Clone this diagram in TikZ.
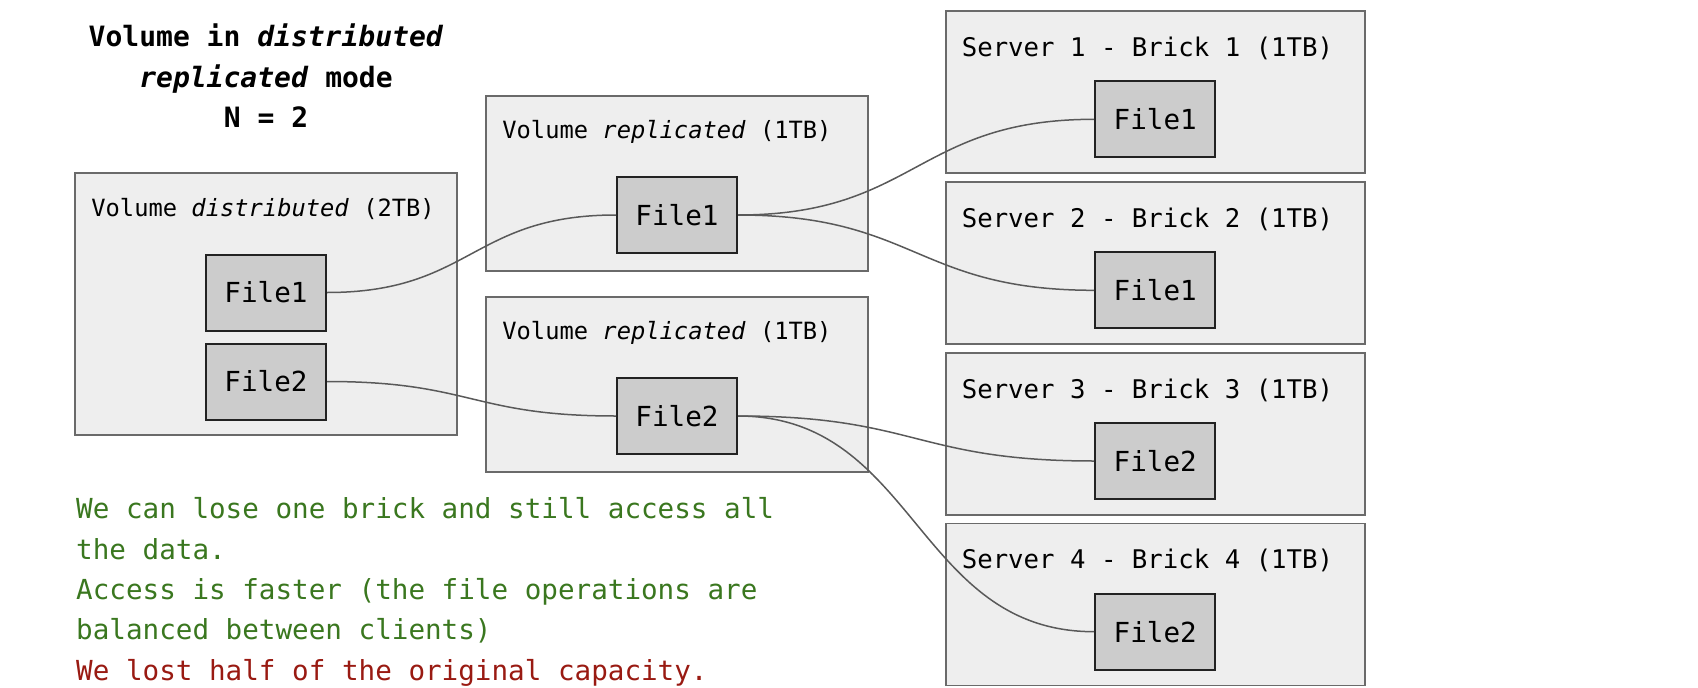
\documentclass[tikz,border=0pt]{standalone}
\usepackage{fontspec}
\setmonofont{DejaVu Sans Mono}
\usetikzlibrary{calc}
\definecolor{boxfill}{HTML}{EEEEEE}
\definecolor{boxline}{HTML}{6A6A6A}
\definecolor{filefill}{HTML}{CCCCCC}
\definecolor{fileline}{HTML}{222222}
\definecolor{connc}{HTML}{595959}
\definecolor{goodc}{HTML}{3A771F}
\definecolor{badc}{HTML}{991A12}
\newcommand{\myconn}[3]{%
  \path ($(#1.east)!0.5!(#2.west)$) coordinate (#3);
  \draw[conn] (#1.east) .. controls (#3 |- #1.east) and (#3 |- #2.west) .. (#2.west);}
\begin{document}
\begin{tikzpicture}[x=1pt,y=-1pt,
  outer/.style={draw=boxline, fill=boxfill, line width=1.6pt, rectangle, inner sep=0pt},
  distbox/.style={outer, minimum width=382, minimum height=262},
  repbox/.style={outer, minimum width=382, minimum height=175},
  srvbox/.style={outer, minimum width=419, minimum height=162},
  filebox/.style={draw=fileline, fill=filefill, line width=2pt, rectangle, inner sep=0pt,
    minimum width=120, minimum height=76, font=\ttfamily\fontsize{27.6}{32}\selectfont},
  lab/.style={anchor=base west, inner sep=0pt, font=\ttfamily\fontsize{23.75}{28}\selectfont},
  srvlab/.style={anchor=base west, inner sep=0pt, font=\ttfamily\fontsize{25.7}{30}\selectfont},
  conn/.style={draw=connc, line width=1.5pt},
  note/.style={inner sep=0pt, align=left, font=\ttfamily\fontsize{27.6}{40.3}\selectfont}
]
\useasboundingbox (0,0) rectangle (1698,688);

% title
\node[inner sep=0pt, align=center, anchor=base, font=\ttfamily\bfseries\fontsize{28}{40.5}\selectfont]
  (title) at (266,127.7) {Volume in \textit{distributed}\\\textit{replicated} mode\\N = 2};

% outer boxes
\node[distbox] (dist) at (266,304) {};
\node[repbox] (rep1) at (677,183.5) {};
\node[repbox] (rep2) at (677,384.2) {};
\node[srvbox] (s1) at (1155.4,92.2) {};
\node[srvbox] (s2) at (1155.4,263) {};
\node[srvbox] (s3) at (1155.4,434) {};
\node[srvbox] (s4) at (1155.4,604.5) {};

% box labels
\node[lab] (ldist) at ([shift={(17,44.3)}]dist.north west) {Volume \textit{distributed} (2TB)};
\node[lab] (lrep1) at ([shift={(17,43.5)}]rep1.north west) {Volume \textit{replicated} (1TB)};
\node[lab] (lrep2) at ([shift={(17,43.5)}]rep2.north west) {Volume \textit{replicated} (1TB)};
\node[srvlab] (ls1) at ([shift={(16.5,46)}]s1.north west) {Server 1 - Brick 1 (1TB)};
\node[srvlab] (ls2) at ([shift={(16.5,46)}]s2.north west) {Server 2 - Brick 2 (1TB)};
\node[srvlab] (ls3) at ([shift={(16.5,46)}]s3.north west) {Server 3 - Brick 3 (1TB)};
\node[srvlab] (ls4) at ([shift={(16.5,46)}]s4.north west) {Server 4 - Brick 4 (1TB)};

% file boxes
\node[filebox] (df1) at (266,292.5) {File1};
\node[filebox] (df2) at (266,381.5) {File2};
\node[filebox] (rf1) at (677,215) {File1};
\node[filebox] (rf2) at (677,416) {File2};
\node[filebox] (sf1) at (1155.2,119.3) {File1};
\node[filebox] (sf2) at (1155.2,290.3) {File1};
\node[filebox] (sf3) at (1155.2,461) {File2};
\node[filebox] (sf4) at (1155.2,631.7) {File2};

% connectors
\myconn{df1}{rf1}{m1}
\myconn{df2}{rf2}{m2}
\myconn{rf1}{sf1}{m3}
\myconn{rf1}{sf2}{m4}
\myconn{rf2}{sf3}{m5}
\myconn{rf2}{sf4}{m6}

% notes
\node[note, anchor=base west] (notes) at (76,680)
  {\textcolor{goodc}{We can lose one brick and still access all}\\
   \textcolor{goodc}{the data.}\\
   \textcolor{goodc}{Access is faster (the file operations are}\\
   \textcolor{goodc}{balanced between clients)}\\
   \textcolor{badc}{We lost half of the original capacity.}};
\end{tikzpicture}
\end{document}
